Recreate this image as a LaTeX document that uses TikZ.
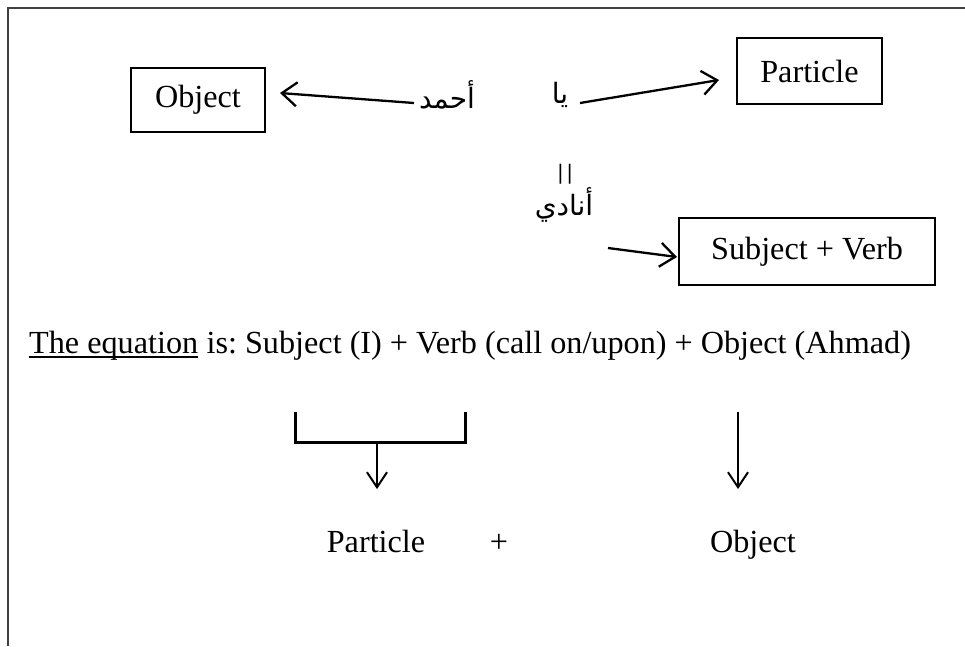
\documentclass[tikz,border=0pt]{standalone}
\usepackage{fontspec}
\setmainfont{Liberation Serif}
\newfontfamily\arabicfont[Script=Arabic]{DejaVu Sans}
\newfontfamily\symfont{DejaVu Sans}
\TeXXeTstate=1
\usetikzlibrary{arrows.meta}
\begin{document}
\begin{tikzpicture}[x=1pt,y=-1pt,
  box/.style={draw, line width=1.4pt, minimum width=#1, inner sep=0pt, font=\fontsize{32.2}{36}\selectfont},
  lbl/.style={inner sep=0pt, font=\fontsize{32.2}{36}\selectfont},
  arab/.style={inner sep=0pt, font=\fontsize{28}{32}\arabicfont},
  arr/.style={line width=2.3pt, -{Straight Barb[length=15pt,width=24pt]}},
  thin arr/.style={line width=2pt, -{Straight Barb[length=15pt,width=20pt]}},
  frame/.style={line width=1.5pt, draw=black!75}]
\frenchspacing
\useasboundingbox (0,0) rectangle (965,646);
\draw[frame] (8,646) -- (8,8) -- (965,8);
% boxes
\node[box=134pt, minimum height=64pt] (obj) at (198,100) {Object};
\node[box=145pt, minimum height=66pt] (part) at (809.5,71) {Particle};
\node[box=256pt, minimum height=67pt] (sv) at (807,251.5) {Subject + Verb};
% arabic words
\node[arab] (ahmad) at (447,95) {\beginR أحمد\endR};
\node[arab] (ya) at (560,95) {\beginR يا\endR};
\node[inner sep=0pt, font=\fontsize{20}{22}\symfont] (eqs) at (565,174) {|\kern2.5pt|};
\node[arab] (unadi) at (564,205) {\beginR أنادي\endR};
% connectors
\coordinate (a1s) at (414,103);
\coordinate (a1e) at (280,93);
\draw[arr] (a1s) -- (a1e);
\coordinate (a2s) at (580,103);
\coordinate (a2e) at (719,80);
\draw[arr] (a2s) -- (a2e);
\coordinate (a3s) at (608,248);
\coordinate (a3e) at (677,257);
\draw[arr] (a3s) -- (a3e);
% equation
\node[lbl, anchor=base west] (eqa) at (29,353) {The equation};
\node[lbl, anchor=base west] (eqb) at (eqa.base east) {\ is: Subject (I) + Verb (call on/upon) + Object (Ahmad)};
\draw[line width=1.4pt] ([yshift=-4pt]eqa.base west) -- ([yshift=-4pt]eqa.base east);
% bracket and arrows
\coordinate (bl) at (295,412);
\coordinate (br) at (465,412);
\coordinate (bm) at (377,442);
\draw[line width=3pt] (bl) -- (295,442) -- (465,442) -- (br);
\node[lbl, anchor=base] (pt) at (376,552) {Particle};
\node[lbl, anchor=base] (plus) at (499,552) {+};
\node[lbl, anchor=base] (ob) at (753,552) {Object};
\coordinate (t1) at (377,489);
\draw[thin arr] (bm) -- (t1);
\coordinate (r1) at (738,412);
\coordinate (t2) at (738,489);
\draw[thin arr] (r1) -- (t2);
\end{tikzpicture}
\end{document}
